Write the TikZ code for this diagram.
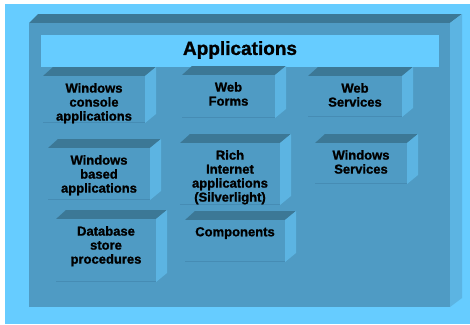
\documentclass[tikz,border=0pt]{standalone}
\usepackage{fontspec}
\setmainfont{Liberation Sans}[BoldFeatures={FakeBold=1.2}]
\definecolor{skyback}{RGB}{102,204,255}
\definecolor{frontblue}{RGB}{79,155,196}
\definecolor{topblue}{RGB}{60,120,150}
\definecolor{sideblue}{RGB}{92,180,226}
\definecolor{edgeblue}{RGB}{70,140,180}
\tikzset{
	boxtext/.style={align=center, inner sep=0pt, anchor=north, font=\fontsize{13}{14}\selectfont\bfseries},
	titletext/.style={inner sep=0pt, font=\fontsize{19}{20}\selectfont\bfseries}
}
\begin{document}
\begin{tikzpicture}[x=1pt, y=-1pt]
		\useasboundingbox (0, 0) rectangle (470, 324);
		\fill[skyback] (5, 4) rectangle (470, 324);
		% outer block
		\fill[topblue] (29, 23) -- (38, 14) -- (462, 14) -- (450, 23) -- cycle;
		\fill[sideblue] (450, 23) -- (462, 14) -- (462, 298) -- (450, 307) -- cycle;
		\fill[frontblue] (29, 23) rectangle (450, 307);
		\fill[skyback] (41, 35) rectangle (439, 67);
		\node[titletext] (title) at (240, 50) {Applications};
		% small blocks
		\foreach \n/\xa/\ya/\xb/\yb/\txt in {
				wincon/43/76/145/123/{Windows\\console\\applications},
				webforms/182/75/275/118/{Web\\Forms},
				websvc/308/76/402/117/{Web\\Services},
				winbased/48/148/150/200/{Windows\\based\\applications},
				ria/180/143/280/205/{Rich\\Internet\\applications\\(Silverlight)},
				winsvc/315/143/407/184/{Windows\\Services},
				dbproc/56/219/156/282/{Database\\store\\procedures},
				comp/185/220/285/262/{Components}} {
			\fill[topblue] (\xa, \ya) -- (\xa+10, \ya-9) -- (\xb+11, \ya-9) -- (\xb, \ya) -- cycle;
			\fill[sideblue] (\xb, \ya) -- (\xb+11, \ya-9) -- (\xb+11, \yb-9) -- (\xb, \yb) -- cycle;
			\fill[frontblue] (\xa, \ya) rectangle (\xb, \yb);
			\draw[edgeblue, line width=1.2pt] (\xa, \yb-0.6) -- (\xb, \yb-0.6);
			\node[boxtext] (\n) at ({(\xa+\xb)/2}, \ya+7) {\txt};
		}
\end{tikzpicture}
\end{document}
